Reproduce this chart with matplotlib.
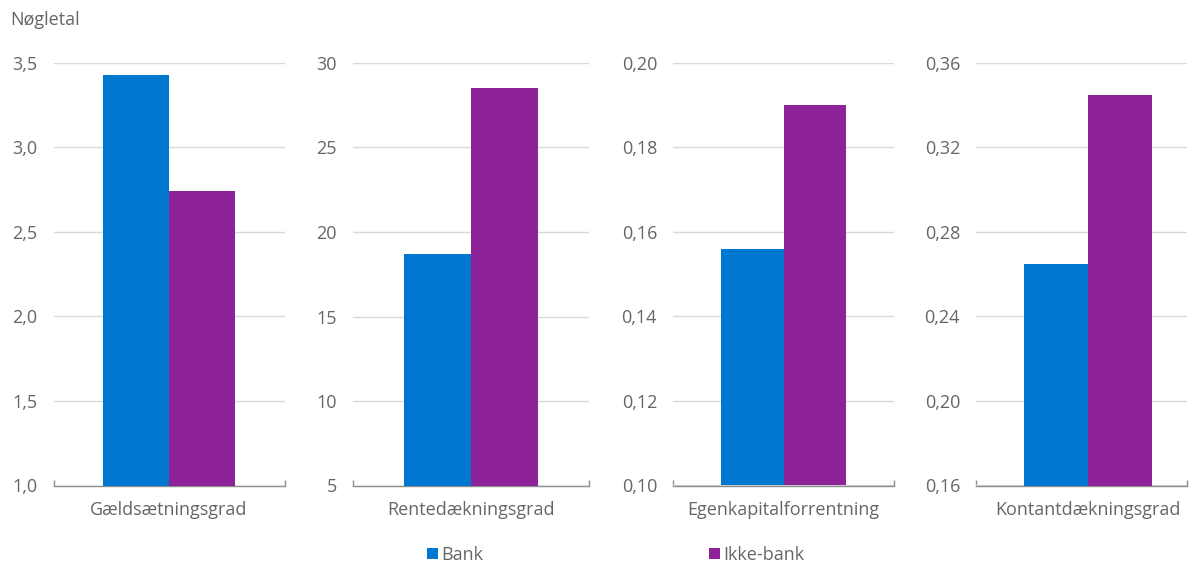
import matplotlib
matplotlib.use('Agg')
import matplotlib.pyplot as plt
from matplotlib.patches import Patch
from matplotlib.ticker import FuncFormatter

categories = ['Gældsætningsgrad', 'Rentedækningsgrad', 'Egenkapitalforrentning', 'Kontantdækningsgrad']
series = ['Bank', 'Ikke-bank']
bank = [3.43, 18.7, 0.156, 0.265]
ikke_bank = [2.745, 28.5, 0.190, 0.345]
y_ticks = [
    [1.0, 1.5, 2.0, 2.5, 3.0, 3.5],
    [5, 10, 15, 20, 25, 30],
    [0.10, 0.12, 0.14, 0.16, 0.18, 0.20],
    [0.16, 0.20, 0.24, 0.28, 0.32, 0.36],
]
decimals = [1, 0, 2, 2]
y_title = 'Nøgletal'

colors = ['#0078D2', '#8E2299']
text_color = '#666666'
grid_color = '#D9D9D9'
axis_color = '#8C8C8C'
fs = 13

plt.rcParams['font.family'] = ['Open Sans', 'DejaVu Sans']

W, H = 1189, 562
fig = plt.figure(figsize=(W / 100, H / 100), dpi=100)

# axes pixel extents (left, right)
ax_px = [(53.5, 284.5), (353, 589), (673, 894), (976, 1187)]
centers_px = [169, 471, 783.5, 1088]
y_bot, y_top = 485.5, 63

bw = 0.285
for i, cat in enumerate(categories):
    l, r = ax_px[i]
    ax = fig.add_axes([l / W, 1 - y_bot / H, (r - l) / W, (y_bot - y_top) / H])
    c = centers_px[i]
    half = max(c - l, r - c)
    xl = -0.5 * (c - l) / half
    xr = 0.5 * (r - c) / half
    ax.bar([-bw / 2], [bank[i] - y_ticks[i][0]], bottom=y_ticks[i][0], width=bw,
           color=colors[0], zorder=2)
    ax.bar([bw / 2], [ikke_bank[i] - y_ticks[i][0]], bottom=y_ticks[i][0], width=bw,
           color=colors[1], zorder=2)
    ax.set_xlim(xl, xr)
    ax.set_ylim(y_ticks[i][0], y_ticks[i][-1])
    ax.set_yticks(y_ticks[i])
    d = decimals[i]
    ax.yaxis.set_major_formatter(FuncFormatter(lambda v, p, d=d: f'{v:.{d}f}'.replace('.', ',')))
    ax.grid(axis='y', color=grid_color, lw=1, zorder=0)
    ax.set_axisbelow(True)
    for s in ['left', 'right', 'top']:
        ax.spines[s].set_visible(False)
    ax.spines['bottom'].set_color(axis_color)
    ax.spines['bottom'].set_linewidth(1)
    ax.spines['bottom'].set_zorder(1)
    ax.set_xticks([0])
    ax.set_xticklabels([cat])
    ax.set_xticks([xl, xr], minor=True)
    ax.tick_params(axis='x', which='major', length=0, pad=11, labelsize=fs, labelcolor=text_color)
    ax.tick_params(axis='x', which='minor', direction='in', length=4, width=1, color=axis_color)
    ax.tick_params(axis='y', length=0, pad=11.5, labelsize=fs, labelcolor=text_color)

fig.text(10 / W, 1 - 20 / H, y_title, fontsize=fs, color=text_color, va='center', ha='left')

handles = [Patch(facecolor=colors[0]), Patch(facecolor=colors[1])]
leg = fig.legend(handles, series, loc='center', bbox_to_anchor=(616 / W, 1 - 555 / H), ncol=2,
                 frameon=False, handlelength=0.6, handleheight=0.6, handletextpad=0.2,
                 columnspacing=12.5, fontsize=fs, borderpad=0, labelcolor=text_color)

fig.savefig('out.png', dpi=100)
